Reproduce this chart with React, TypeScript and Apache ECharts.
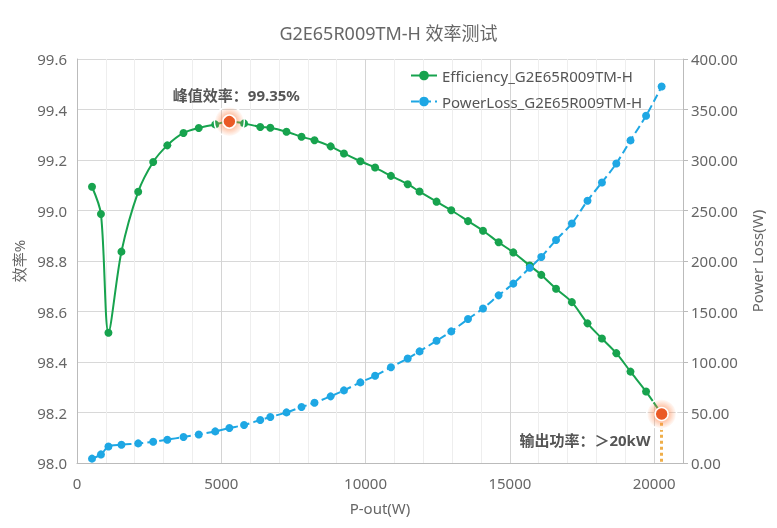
import React, { useEffect, useRef } from "react";
import * as echarts from "echarts";

const pOut = [520, 830, 1090, 1540, 2120, 2640, 3130, 3690, 4220, 4790, 5280, 5790, 6350, 6700, 7260, 7780, 8230, 8790, 9250, 9820, 10330, 10880, 11460, 11870, 12460, 12970, 13550, 14070, 14610, 15120, 15690, 16090, 16600, 17150, 17690, 18190, 18690, 19180, 19720, 20260];
const efficiency = [99.094, 98.986, 98.516, 98.837, 99.074, 99.192, 99.258, 99.307, 99.327, 99.341, 99.352, 99.345, 99.331, 99.328, 99.312, 99.292, 99.278, 99.254, 99.226, 99.195, 99.17, 99.137, 99.104, 99.075, 99.035, 99.001, 98.958, 98.92, 98.874, 98.834, 98.782, 98.745, 98.69, 98.637, 98.553, 98.493, 98.435, 98.362, 98.283, 98.194];
const powerLoss = [4.3, 8.5, 16.4, 18.1, 19.4, 21.1, 23.1, 25.7, 28.3, 31.3, 34.6, 37.6, 42.6, 45.5, 50.1, 55.4, 59.7, 66.0, 71.9, 79.8, 86.4, 94.8, 103.5, 110.5, 121.0, 130.3, 142.5, 153.0, 166.0, 177.6, 193.3, 204.0, 220.8, 237.2, 259.7, 277.8, 296.6, 319.4, 343.8, 372.8];

const titleText = "G2E65R009TM-H 效率测试";
const effName = "Efficiency_G2E65R009TM-H";
const lossName = "PowerLoss_G2E65R009TM-H";
const peakIndex = 10;
const peakLabel = "峰值效率：99.35%";
const maxIndex = 39;
const maxLabel = "输出功率：＞20kW";

const FONT = "'Noto Sans', 'Noto Sans CJK SC', sans-serif";
const GREEN = "#17a34e";
const BLUE = "#1ea7e4";

export default function App() {
  const ref = useRef<HTMLDivElement>(null);
  useEffect(() => {
    if (!ref.current) return;
    const chart = echarts.init(ref.current, undefined, { renderer: "svg" });
    const effData = pOut.map((x, i) => [x, efficiency[i]]);
    const lossData = pOut.map((x, i) => [x, powerLoss[i]]);
    const coreStyle = {
      color: "#ea5a26",
      borderColor: "#fff",
      borderWidth: 1.5,
    };
    const haloStyle = {
      color: {
        type: "radial",
        x: 0.5,
        y: 0.5,
        r: 0.5,
        colorStops: [
          { offset: 0, color: "rgba(255,120,60,0.75)" },
          { offset: 0.5, color: "rgba(255,130,70,0.45)" },
          { offset: 1, color: "rgba(255,140,80,0)" },
        ],
      },
    };
    const labelBase = { show: true, fontSize: 15, fontWeight: "bold", color: "#555", fontFamily: FONT };
    chart.setOption({
      animation: false,
      textStyle: { fontFamily: FONT },
      title: {
        text: titleText,
        left: "center",
        top: 19,
        textStyle: { fontSize: 18, fontWeight: "normal", color: "#666", fontFamily: FONT },
      },
      legend: {
        orient: "vertical",
        left: 405,
        top: 63,
        itemWidth: 26,
        itemHeight: 12,
        itemGap: 11,
        textStyle: { fontSize: 15, color: "#555", fontFamily: FONT },
        data: [effName, lossName],
      },
      grid: { left: 77, right: 94, top: 59, bottom: 65 },
      xAxis: {
        type: "value",
        min: 0,
        max: 21000,
        interval: 5000,
        name: "P-out(W)",
        nameLocation: "middle",
        nameGap: 37,
        nameTextStyle: { fontSize: 15, color: "#666" },
        axisLine: { show: true, lineStyle: { color: "#bbb" } },
        axisTick: { show: false },
        axisLabel: { fontSize: 15, color: "#666", margin: 12, formatter: (v: number) => String(v) },
        splitLine: { show: true, lineStyle: { color: "#d4d4d4" } },
        minorTick: { show: false, splitNumber: 5 },
        minorSplitLine: { show: true, lineStyle: { color: "#eee" } },
      },
      yAxis: [
        {
          type: "value",
          min: 98.0,
          max: 99.6,
          interval: 0.2,
          name: "效率%",
          nameLocation: "middle",
          nameGap: 47,
          nameTextStyle: { fontSize: 15, color: "#666" },
          axisLine: { show: true, lineStyle: { color: "#bbb" } },
          axisTick: { show: false },
          axisLabel: { fontSize: 15, color: "#666", formatter: (v: number) => v.toFixed(1), margin: 10 },
          splitLine: { show: true, lineStyle: { color: "#d8d8d8" } },
        },
        {
          type: "value",
          min: 0,
          max: 400,
          interval: 50,
          name: "Power Loss(W)",
          nameLocation: "middle",
          nameGap: 66,
          nameTextStyle: { fontSize: 15, color: "#666" },
          axisLine: { show: true, lineStyle: { color: "#bbb" } },
          axisTick: { show: true, length: 5, lineStyle: { color: "#bbb" } },
          axisLabel: { fontSize: 15, color: "#666", formatter: (v: number) => v.toFixed(2), margin: 8 },
          splitLine: { show: false },
        },
      ],
      series: [
        {
          name: effName,
          type: "line",
          yAxisIndex: 0,
          data: effData,
          smooth: 0.3,
          symbol: "circle",
          symbolSize: 8,
          itemStyle: { color: GREEN },
          lineStyle: { color: GREEN, width: 2 },
          markPoint: {
            symbol: "circle",
            symbolSize: 13,
            itemStyle: coreStyle,
            data: [
              { coord: effData[peakIndex], symbolSize: 30, itemStyle: haloStyle, label: { show: false } },
              { coord: effData[maxIndex], symbolSize: 30, itemStyle: haloStyle, label: { show: false } },
              {
                coord: effData[peakIndex],
                label: { ...labelBase, position: "top", distance: 12, offset: [7, 0], formatter: peakLabel },
              },
              {
                coord: effData[maxIndex],
                label: { ...labelBase, position: "left", distance: 4, offset: [0, 26], formatter: maxLabel },
              },
            ],
          },
          markLine: {
            silent: true,
            symbol: ["none", "none"],
            label: { show: false },
            lineStyle: { type: "dotted", width: 3, color: "#efae4a" },
            data: [[{ coord: [pOut[maxIndex], efficiency[maxIndex] - 0.035] }, { coord: [pOut[maxIndex], 98.0] }]],
          },
        },
        {
          name: lossName,
          type: "line",
          yAxisIndex: 1,
          data: lossData,
          smooth: 0.3,
          symbol: "circle",
          symbolSize: 8,
          itemStyle: { color: BLUE },
          lineStyle: { color: BLUE, width: 2, type: "dashed" },
        },
      ],
    });
    return () => chart.dispose();
  }, []);
  return <div ref={ref} style={{ position: "fixed", left: 0, top: 0, width: 777, height: 528 }} />;
}
